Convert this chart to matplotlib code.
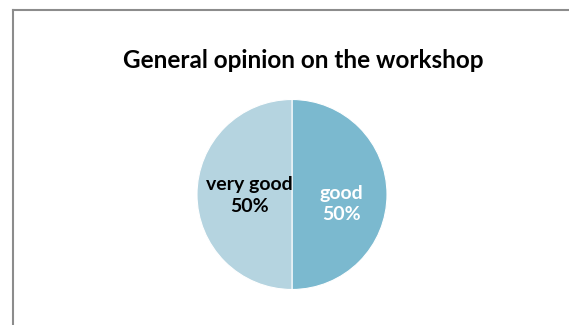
import matplotlib.pyplot as plt
from matplotlib.lines import Line2D

categories = ['good', 'very good']
values = [50, 50]
colors = ['#7bb9cf', '#b5d4e0']
label_colors = ['white', 'black']

W, H = 569, 325
fig = plt.figure(figsize=(W / 100, H / 100), dpi=100)

# gray chart frame, only left and top edges visible
fx, fy = 12.5 / W, 1 - 9.5 / H
fig.lines.append(Line2D([fx, fx], [0, fy], transform=fig.transFigure,
                        color='#8c8c8c', linewidth=1.5))
fig.lines.append(Line2D([fx, 1], [fy, fy], transform=fig.transFigure,
                        color='#8c8c8c', linewidth=1.5))

fig.text(303 / W, 1 - 61 / H, 'General opinion on the workshop',
         ha='center', va='center', fontsize=17.5, fontweight='bold',
         family='Lato', color='black')

# pie axes: center (292, 194.5), radius 95 px
cx, cy, r = 292, 194.5, 95
ax = fig.add_axes([(cx - r) / W, 1 - (cy + r) / H, 2 * r / W, 2 * r / H])
total = sum(values)
labels = [f'{c}\n{v / total * 100:.0f}%' for c, v in zip(categories, values)]
wedges, texts = ax.pie(values, colors=colors, startangle=90, counterclock=False,
                       labels=labels, labeldistance=0.5,
                       wedgeprops=dict(edgecolor='white', linewidth=0.8),
                       textprops=dict(fontsize=14, fontweight='bold', family='Lato',
                                      ha='center', va='center', linespacing=1.35))
for t, c in zip(texts, label_colors):
    t.set_color(c)
texts[0].set_position((0.52, -0.1))
texts[1].set_position((-0.45, -0.015))
ax.set_xlim(-1, 1)
ax.set_ylim(-1, 1)
ax.set_aspect('auto')
ax.axis('off')

fig.savefig('out.png', dpi=100)
